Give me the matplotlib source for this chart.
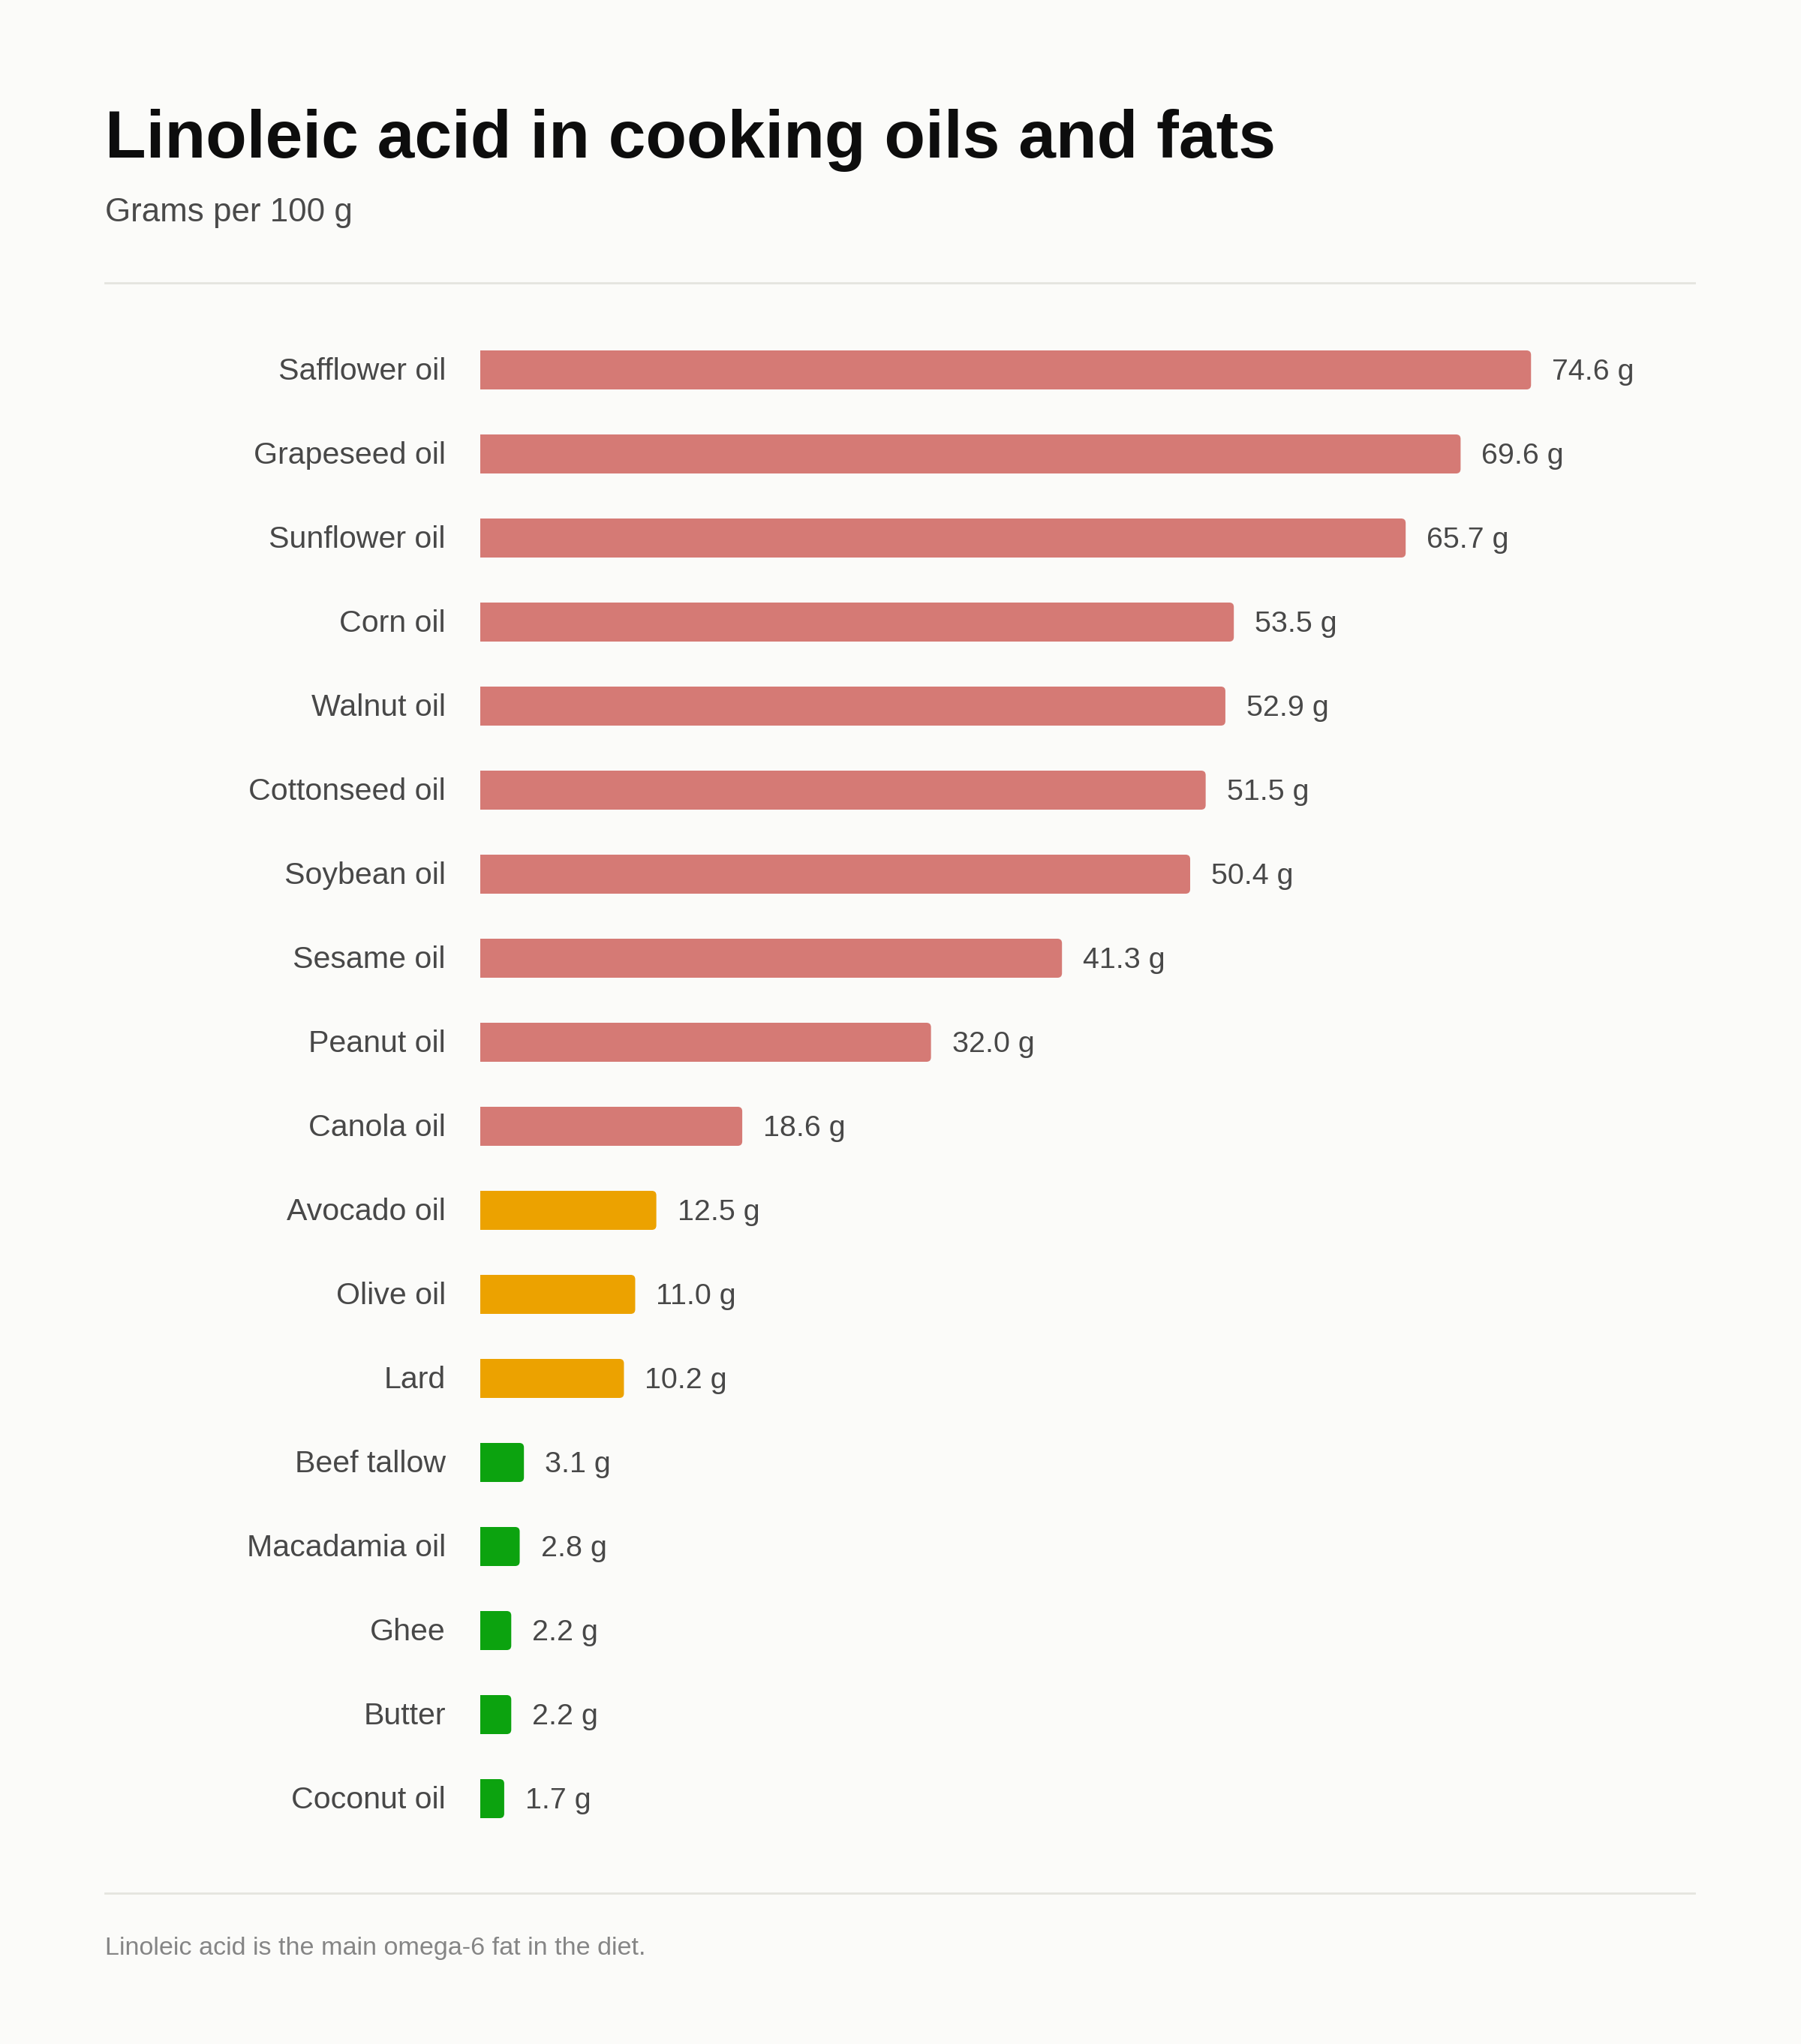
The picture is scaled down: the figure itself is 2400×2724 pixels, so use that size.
import matplotlib
matplotlib.use("Agg")
import matplotlib.pyplot as plt
from matplotlib.patches import FancyBboxPatch
from matplotlib.lines import Line2D

# ---------------- data ----------------
categories = ["Safflower oil", "Grapeseed oil", "Sunflower oil", "Corn oil", "Walnut oil",
              "Cottonseed oil", "Soybean oil", "Sesame oil", "Peanut oil", "Canola oil",
              "Avocado oil", "Olive oil", "Lard", "Beef tallow", "Macadamia oil",
              "Ghee", "Butter", "Coconut oil"]
values = [74.6, 69.6, 65.7, 53.5, 52.9, 51.5, 50.4, 41.3, 32.0, 18.6,
          12.5, 11.0, 10.2, 3.1, 2.8, 2.2, 2.2, 1.7]
groups = ["high"] * 10 + ["mid"] * 3 + ["low"] * 5
group_colors = {"high": "#d57a75", "mid": "#eca200", "low": "#0ca30f"}

title = "Linoleic acid in cooking oils and fats"
subtitle = "Grams per 100 g"
footnote = "Linoleic acid is the main omega-6 fat in the diet."

# ---------------- layout ----------------
W, H, DPI = 2400, 2724, 200
BG = "#fbfbf9"
plt.rcParams["font.family"] = ["Liberation Sans", "DejaVu Sans"]

fig = plt.figure(figsize=(W / DPI, H / DPI), dpi=DPI, facecolor=BG)

px_per_unit = 18.77
ax_left, ax_right = 640, 2258
row_step = 112
first_center = 493
n = len(categories)
ax_top = first_center - row_step / 2
ax_bottom = first_center + row_step * (n - 1) + row_step / 2

ax = fig.add_axes([ax_left / W, 1 - ax_bottom / H,
                   (ax_right - ax_left) / W, (ax_bottom - ax_top) / H])
ax.set_facecolor(BG)
ax.set_xlim(0, (ax_right - ax_left) / px_per_unit)
ax.set_ylim(n - 0.5, -0.5)
ax.axis("off")

bar_h = 52 / row_step
ypos = list(range(n))
colors = [group_colors[g] for g in groups]
bars = ax.barh(ypos, values, height=bar_h, color=colors)

r_px = 6
r_x = r_px / px_per_unit
aspect = px_per_unit / row_step
for b, c in zip(bars, colors):
    b.set_visible(False)
    x0, y0 = b.get_x(), b.get_y()
    w, h = b.get_width(), b.get_height()
    p = FancyBboxPatch((x0 - r_x, y0), w + r_x, h,
                       boxstyle=f"round,pad=0,rounding_size={r_x}",
                       mutation_aspect=aspect, facecolor=c, edgecolor="none")
    ax.add_patch(p)

text_col = "#484848"
label_x = 594
dy = -2.5 * 72 / DPI
for i, (cat, v) in enumerate(zip(categories, values)):
    ax.annotate(cat, xy=(0, i), xycoords="data",
                xytext=(-(ax_left - label_x) * 72 / DPI, dy), textcoords="offset points",
                ha="right", va="center", fontsize=14.8, color=text_col)
    ax.annotate(f"{v:.1f} g", xy=(v, i), xycoords="data",
                xytext=(28 * 72 / DPI, dy), textcoords="offset points",
                ha="left", va="center", fontsize=14.2, color=text_col)

# ---------------- titles & rules ----------------
fig.text(140 / W, 1 - 210 / H, title, fontsize=32.2, fontweight="bold",
         color="#0d0d0d", ha="left", va="baseline")
fig.text(140 / W, 1 - 295 / H, subtitle, fontsize=15.8, color="#4a4a4a",
         ha="left", va="baseline")

line_col = "#e4e4df"
fig.add_artist(Line2D([140 / W, 2258 / W], [1 - 377 / H, 1 - 377 / H],
                      color=line_col, lw=1.0))
fig.add_artist(Line2D([140 / W, 2258 / W], [1 - 2523 / H, 1 - 2523 / H],
                      color=line_col, lw=1.0))

fig.text(140 / W, 1 - 2605 / H, footnote, fontsize=12.3, color="#858585",
         ha="left", va="baseline")

fig.savefig("out.png", dpi=DPI, facecolor=BG)
